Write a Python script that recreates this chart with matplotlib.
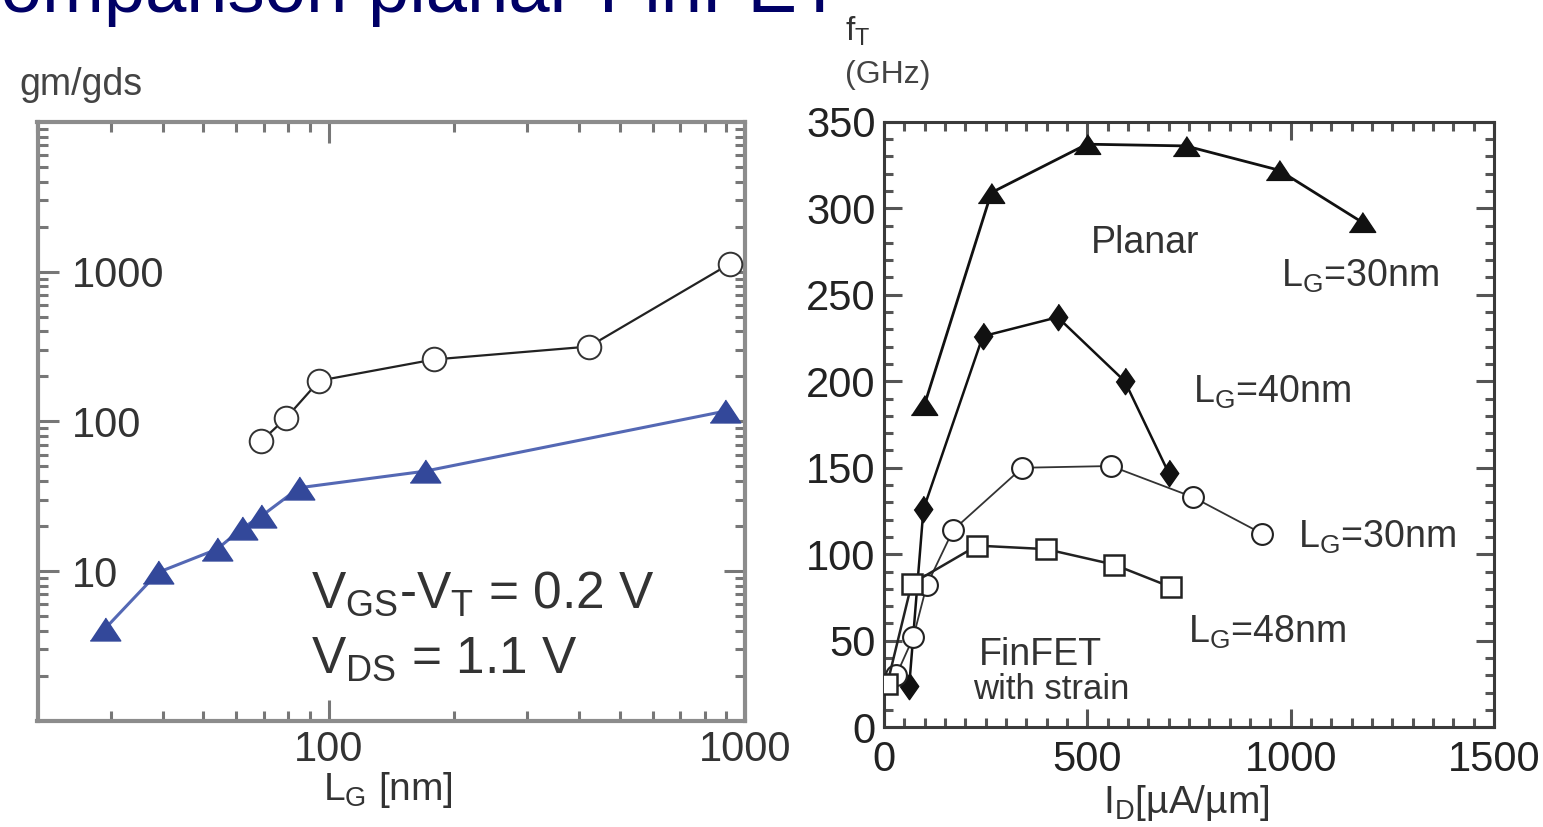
import matplotlib
matplotlib.use("Agg")
import matplotlib.pyplot as plt
from matplotlib.ticker import LogLocator, NullFormatter, FixedLocator, MultipleLocator

plt.rcParams['font.family'] = ['Liberation Sans', 'DejaVu Sans']
plt.rcParams['mathtext.fontset'] = 'custom'
plt.rcParams['mathtext.rm'] = 'Liberation Sans'
plt.rcParams['mathtext.it'] = 'Liberation Sans'

W, H = 1543, 827

# gm/gds vs gate length (log-log)
lg_planar = [69, 79, 95, 179, 422, 920]
gain_planar = [74, 105, 187, 259, 316, 1130]
lg_finfet = [29, 39, 54, 62, 69, 85, 170, 896]
gain_finfet = [4.1, 9.8, 14, 19.3, 23.3, 36, 46.4, 117]

# fT vs drain current
id_pl30 = [99, 264, 499, 742, 971, 1175]
ft_pl30 = [186, 309, 337, 336, 322, 292]
id_pl40 = [62, 97, 243, 427, 592, 700]
ft_pl40 = [24, 126, 226, 237, 200, 147]
id_fin30 = [30, 72, 105, 170, 340, 558, 760, 929]
ft_fin30 = [30, 52, 82, 114, 150, 151, 133, 112]
id_fin48 = [8, 68, 229, 398, 566, 706]
ft_fin48 = [25, 83, 105, 103, 94, 81]


def px(x, y):
    return x / W, 1 - y / H


fig = plt.figure(figsize=(W / 100, H / 100), dpi=100)

# slide title, partly cut off at the top edge
fig.text(-53 / W, 1 - 12 / H, 'Comparison planar-FinFET', fontsize=53.5,
         color='#000066', va='baseline', ha='left')

# ---------- left panel ----------
ax1 = fig.add_axes([37.5 / W, 1 - 720.7 / H, (745 - 37.5) / W, (720.7 - 122) / H])
blue_line = '#5468b4'
blue_mark = '#33489a'
tri = [(-1, -0.75), (1, -0.75), (0, 0.75)]
ax1.plot(lg_planar, gain_planar, color='#222222', lw=1.6, marker='o', ms=17,
         mfc='white', mec='#333333', mew=1.4, zorder=3)
ax1.plot(lg_finfet, gain_finfet, color=blue_line, lw=2.2, marker=tri, ms=22,
         mfc=blue_mark, mec=blue_mark, zorder=3)
ax1.set_xscale('log')
ax1.set_yscale('log')
ax1.set_xlim(20, 1000)
ax1.set_ylim(1, 10000)
ax1.xaxis.set_major_locator(FixedLocator([100, 1000]))
ax1.set_xticklabels(['100', '1000'])
ax1.xaxis.set_minor_locator(LogLocator(base=10, subs=range(2, 10)))
ax1.xaxis.set_minor_formatter(NullFormatter())
ax1.yaxis.set_major_locator(FixedLocator([10, 100, 1000]))
ax1.set_yticklabels(['10', '100', '1000'])
ax1.yaxis.set_minor_locator(LogLocator(base=10, subs=range(2, 10)))
ax1.yaxis.set_minor_formatter(NullFormatter())
for s in ax1.spines.values():
    s.set_color('#8c8c8c')
    s.set_linewidth(3)
ax1.tick_params(which='both', direction='in', top=True, right=True,
                color='#777777', width=2.2, labelsize=30, labelcolor='#333333')
ax1.tick_params(which='major', length=15)
ax1.tick_params(which='minor', length=7)
ax1.tick_params(axis='x', pad=7)
ax1.tick_params(axis='y', pad=-25)
for lab in ax1.get_yticklabels():
    lab.set_horizontalalignment('left')

ax1.text(90.9, 5.66, r'$\mathrm{V_{GS}}$-$\mathrm{V_{T}}$ = 0.2 V', fontsize=37,
         color='#333333', va='baseline', ha='left')
ax1.text(90.9, 2.09, r'$\mathrm{V_{DS}}$ = 1.1 V', fontsize=37,
         color='#333333', va='baseline', ha='left')

fig.text(*px(81, 85), 'gm/gds', fontsize=27, color='#444444', ha='center', va='center')
fig.text(*px(388, 790), r'$\mathrm{L_{G}}$ [nm]', fontsize=28, color='#333333',
         ha='center', va='center')

# ---------- right panel ----------
ax2 = fig.add_axes([884 / W, 1 - 727.3 / H, 610 / W, (727.3 - 121.7) / H])
dia = [(0, 1), (0.7, 0), (0, -1), (-0.7, 0)]
ax2.plot(id_pl30, ft_pl30, color='#111111', lw=2, marker=tri, ms=19,
         mfc='#111111', mec='#111111', zorder=3)
ax2.plot(id_pl40, ft_pl40, color='#111111', lw=1.8, marker=dia, ms=19,
         mfc='#111111', mec='#111111', zorder=3)
ax2.plot(id_fin30, ft_fin30, color='#333333', lw=1.3, marker='o', ms=15,
         mfc='white', mec='#222222', mew=1.5, zorder=3)
ax2.plot(id_fin48, ft_fin48, color='#222222', lw=1.8, marker='s', ms=15,
         mfc='white', mec='#222222', mew=1.8, zorder=3)
ax2.set_xlim(0, 1500)
ax2.set_ylim(0, 350)
ax2.xaxis.set_major_locator(MultipleLocator(500))
ax2.xaxis.set_minor_locator(MultipleLocator(50))
ax2.yaxis.set_major_locator(MultipleLocator(50))
ax2.yaxis.set_minor_locator(MultipleLocator(10))
for s in ax2.spines.values():
    s.set_color('#3a3a3a')
    s.set_linewidth(2.2)
ax2.tick_params(which='both', direction='in', top=True, right=True,
                color='#555555', width=2.2, labelsize=30, labelcolor='#222222')
ax2.tick_params(which='major', length=13)
ax2.tick_params(which='minor', length=6.5)
ax2.tick_params(axis='x', pad=9)
ax2.tick_params(axis='y', pad=6)

lab_kw = dict(fontsize=27, color='#333333')
ax2.text(642, 280, 'Planar', ha='center', va='center', **lab_kw)
ax2.text(976, 254.5, r'$\mathrm{L_{G}}$=30nm', ha='left', va='baseline', **lab_kw)
ax2.text(760, 187.5, r'$\mathrm{L_{G}}$=40nm', ha='left', va='baseline', **lab_kw)
ax2.text(1018, 104, r'$\mathrm{L_{G}}$=30nm', ha='left', va='baseline', **lab_kw)
ax2.text(747, 48.7, r'$\mathrm{L_{G}}$=48nm', ha='left', va='baseline', **lab_kw)
ax2.text(384, 41.8, 'FinFET', ha='center', va='center', **lab_kw)
ax2.text(411, 21.6, 'with strain', ha='center', va='center', fontsize=25, color='#333333')

fig.text(*px(858, 31), r'$\mathrm{f_{T}}$', fontsize=24, color='#333333', ha='center', va='center')
fig.text(*px(888, 75), '(GHz)', fontsize=23, color='#444444', ha='center', va='center')
fig.text(*px(1186, 803), r'$\mathrm{I_{D}}$[µA/µm]', fontsize=28, color='#333333',
         ha='center', va='center')

fig.savefig('out.png', dpi=100)
